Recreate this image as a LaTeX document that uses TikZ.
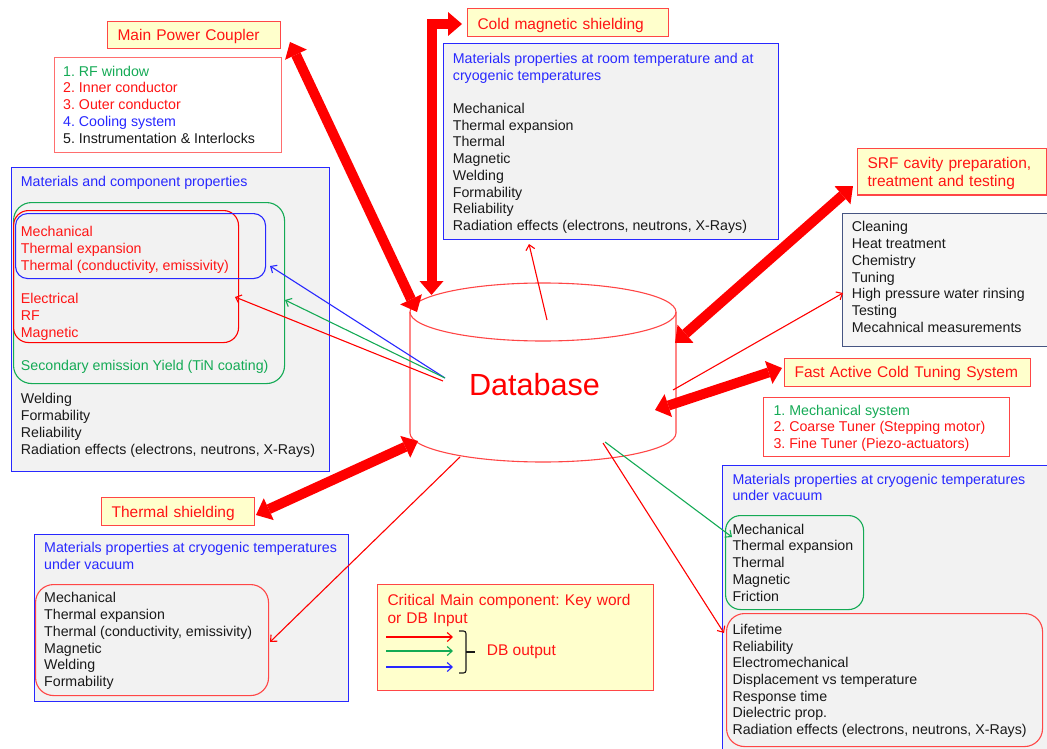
\documentclass[tikz,border=0pt]{standalone}
\usepackage{fontspec}
\setmainfont{Liberation Sans}
\usetikzlibrary{arrows.meta}

\definecolor{tred}{RGB}{255,20,20}
\definecolor{edgered}{RGB}{255,70,70}
\definecolor{softred}{RGB}{255,110,110}
\definecolor{paleyellow}{RGB}{255,255,204}
\definecolor{panelgray}{RGB}{242,242,242}
\definecolor{listgray}{RGB}{246,246,246}
\definecolor{ublue}{RGB}{40,40,255}
\definecolor{ugreen}{RGB}{20,170,85}
\definecolor{ink}{RGB}{25,25,25}
\definecolor{slate}{RGB}{70,85,130}

\newcommand{\fbody}{\fontsize{14.2}{16.7}\selectfont}
\newcommand{\fhead}{\fontsize{15.5}{18.4}\selectfont}
\newcommand{\fdb}{\fontsize{30.6}{36}\selectfont}
\newcommand{\lineup}[1]{\rule{0pt}{#1pt}}
\newcommand{\linedown}[1]{\rule[-#1pt]{0pt}{#1pt}}

\begin{document}
\frenchspacing
\begin{tikzpicture}[x=1pt, y=-1pt,
  panel/.style={draw=ublue, fill=panelgray, line width=1.1pt, anchor=north west, inner sep=0pt},
  listbox/.style={draw=softred, fill=white, line width=1.1pt, anchor=north west, inner sep=0pt},
  keybox/.style={draw=edgered, fill=paleyellow, line width=1.1pt, anchor=north west,
    inner xsep=10pt, inner ysep=0pt, align=left, font=\fhead, text=tred},
  ring/.style={rounded corners=#1, line width=1.1pt, anchor=north west, inner sep=0pt},
  txt/.style={anchor=north west, inner sep=0pt, align=left, font=\fbody, text=ink},
  bigarrow/.style={draw=red, line width=10pt,
    {Triangle[length=14pt,width=24pt,line width=0pt]}-{Triangle[length=14pt,width=24pt,line width=0pt]}},
  link/.style={line width=1.1pt, -{Straight Barb[length=5pt,width=9pt]}},
  dbline/.style={draw=edgered, line width=1.1pt},
]
\useasboundingbox (0,0) rectangle (1047,749);

% ---------- panels ----------
\node[panel, minimum width=318pt, minimum height=304pt] (compPanel) at (11,167) {};
\node[panel, minimum width=335pt, minimum height=196pt] (shieldPanel) at (443,43) {};
\node[panel, minimum width=330pt, minimum height=290pt] (tunerPanel) at (722,465) {};
\node[panel, minimum width=314pt, minimum height=167pt] (thermPanel) at (34,534) {};
\node[listbox, draw=slate, fill=listgray, minimum width=205pt, minimum height=133pt] (srfList) at (842,213) {};
\node[listbox, minimum width=227pt, minimum height=95pt] (mpcList) at (54,57) {};
\node[listbox, draw=edgered, minimum width=246pt, minimum height=59pt] (tunerList) at (763,397) {};

% ---------- grouping rings ----------
\node[ring=18pt, draw=ugreen, minimum width=271pt, minimum height=181pt] (ringSey) at (13,202) {};
\node[ring=15pt, draw=red, minimum width=225pt, minimum height=132pt] (ringRf) at (13,210) {};
\node[ring=12pt, draw=ublue, minimum width=250pt, minimum height=65pt] (ringTherm) at (15,213) {};
\node[ring=15pt, draw=ugreen, minimum width=138pt, minimum height=94pt] (ringMech) at (725,515) {};
\node[ring=18pt, draw=edgered, minimum width=316pt, minimum height=133pt] (ringLife) at (726,613) {};
\node[ring=18pt, draw=edgered, minimum width=233pt, minimum height=111pt] (ringCryo) at (35,584) {};

% ---------- key components ----------
\node[keybox, text width=153pt] (mpc) at (107,21) {\lineup{19}Main Power Coupler\linedown{8}};
\node[keybox, text width=181pt] (cms) at (467,8) {\lineup{20.5}Cold magnetic shielding\linedown{7.5}};
\node[keybox, text width=169pt] (srf) at (857,148) {\lineup{20}SRF cavity preparation,\\treatment and testing\linedown{8}};
\node[keybox, text width=226pt] (facts) at (784,358) {\lineup{19}Fast Active Cold Tuning System\linedown{9}};
\node[keybox, text width=133pt] (thermal) at (101,497) {\lineup{20}Thermal shielding\linedown{8}};
\node[keybox, text width=256pt] (legend) at (377,584) {\lineup{21}Critical Main component: Key word\\or DB Input\linedown{66.6}};

% ---------- texts ----------
\node[txt] (mpcItems) at (63,64) {\lineup{12}\textcolor{ugreen}{1. RF window}\\\textcolor{tred}{2. Inner conductor}\\\textcolor{tred}{3. Outer conductor}\\\textcolor{ublue}{4. Cooling system}\\5. Instrumentation \& Interlocks};

\node[txt, text=ublue] (compTitle) at (20.7,174.7) {\lineup{12}Materials and component properties};
\node[txt, text=tred] (compThermal) at (20.7,224.7) {\lineup{12}Mechanical\\Thermal expansion\\Thermal (conductivity, emissivity)};
\node[txt, text=tred] (compRf) at (20.7,291.5) {\lineup{12}Electrical\\RF\\Magnetic};
\node[txt, text=ugreen] (compSey) at (20.7,358.3) {\lineup{12}Secondary emission Yield (TiN coating)};
\node[txt] (compOther) at (20.7,391.7) {\lineup{12}Welding\\Formability\\Reliability\\Radiation effects (electrons, neutrons, X-Rays)};

\node[txt, text=ublue] (shieldTitle) at (452.7,51.3) {\lineup{12}Materials properties at room temperature and at\\cryogenic temperatures};
\node[txt] (shieldItems) at (452.7,101.3) {\lineup{12}Mechanical\\Thermal expansion\\Thermal\\Magnetic\\Welding\\Formability\\Reliability\\Radiation effects (electrons, neutrons, X-Rays)};

\node[txt] (srfItems) at (851.7,219.7) {\lineup{12}Cleaning\\Heat treatment\\Chemistry\\Tuning\\High pressure water rinsing\\Testing\\Mecahnical measurements};

\node[txt] (tunerItems) at (773.3,403) {\lineup{12}\textcolor{ugreen}{1. Mechanical system}\\\textcolor{tred}{2. Coarse Tuner (Stepping motor)}\\\textcolor{tred}{3. Fine Tuner (Piezo-actuators)}};

\node[txt, text=ublue] (tunerTitle) at (732.3,472) {\lineup{12}Materials properties at cryogenic temperatures\\under vacuum};
\node[txt] (tunerMech) at (732.3,522) {\lineup{12}Mechanical\\Thermal expansion\\Thermal\\Magnetic\\Friction};
\node[txt] (tunerLife) at (732.3,622.2) {\lineup{12}Lifetime\\Reliability\\Electromechanical\\Displacement vs temperature\\Response time\\Dielectric prop.\\Radiation effects (electrons, neutrons, X-Rays)};

\node[txt, text=ublue] (thermTitle) at (44,540.7) {\lineup{12}Materials properties at cryogenic temperatures\\under vacuum};
\node[txt] (thermItems) at (44,590.7) {\lineup{12}Mechanical\\Thermal expansion\\Thermal (conductivity, emissivity)\\Magnetic\\Welding\\Formability};

% ---------- database cylinder ----------
\path[fill=white] (410,312) -- (410,433) arc[start angle=180, end angle=360, x radius=133pt, y radius=29pt]
  -- (676,312) arc[start angle=0, end angle=180, x radius=133pt, y radius=29pt] -- cycle;
\draw[dbline] (410,312) -- (410,433) arc[start angle=180, end angle=360, x radius=133pt, y radius=29pt] -- (676,312);
\draw[dbline] (543,312) ellipse[x radius=133pt, y radius=29pt];

% ---------- connector ends ----------
\coordinate (mpcEnd) at (290,42);     \coordinate (dbNW) at (417,312);
\coordinate (dbTop) at (431.5,295);   \coordinate (cmsEnd) at (462,24);
\coordinate (srfEnd) at (853,186);    \coordinate (dbNE) at (675,343);
\coordinate (factsEnd) at (782,368);  \coordinate (dbE) at (655,410);
\coordinate (thermalEnd) at (256,515);\coordinate (dbSW) at (418,441);

\coordinate (dbUp) at (547,320);      \coordinate (shieldIn) at (529,244);
\coordinate (dbLeft) at (445,378);    \coordinate (dbLeftLow) at (443,381);
\coordinate (thermIn) at (270,266);   \coordinate (seyIn) at (285,300);
\coordinate (rfIn) at (235,297);
\coordinate (dbRight) at (673,390);   \coordinate (srfIn) at (843,293);
\coordinate (dbLowA) at (605,442);    \coordinate (mechIn) at (732,537);
\coordinate (dbLowB) at (603,443);    \coordinate (lifeIn) at (724,633);
\coordinate (dbLowC) at (460,457);    \coordinate (cryoIn) at (270,642);

% ---------- thick two-way links ----------
\draw[bigarrow] (mpcEnd) -- (dbNW);
\draw[bigarrow] (dbTop) |- (cmsEnd);
\draw[bigarrow] (srfEnd) -- (dbNE);
\draw[bigarrow] (factsEnd) -- (dbE);
\draw[bigarrow] (thermalEnd) -- (dbSW);

% ---------- database outputs ----------
\draw[link, red] (dbUp) -- (shieldIn);
\draw[link, ublue] (dbLeft) -- (thermIn);
\draw[link, ugreen] (dbLeft) -- (seyIn);
\draw[link, red] (dbLeftLow) -- (rfIn);
\draw[link, red] (dbRight) -- (srfIn);
\draw[link, ugreen] (dbLowA) -- (mechIn);
\draw[link, red] (dbLowB) -- (lifeIn);
\draw[link, red] (dbLowC) -- (cryoIn);

\node[anchor=base, inner sep=0pt, font=\fdb, text=red] (db) at (534.5,395) {Database};

% ---------- legend samples ----------
\coordinate (keyRa) at (386,637); \coordinate (keyRb) at (453,637);
\coordinate (keyGa) at (386,651); \coordinate (keyGb) at (453,651);
\coordinate (keyBa) at (386,667); \coordinate (keyBb) at (453,667);
\draw[link, red] (keyRa) -- (keyRb);
\draw[link, ugreen] (keyGa) -- (keyGb);
\draw[link, ublue] (keyBa) -- (keyBb);
\draw[ink, line width=1.1pt, rounded corners=2.5pt] (459,631) -- (466,631) -- (466,673) -- (459,673);
\draw[ink, line width=1.1pt] (466,652) -- (475,652);
\node[anchor=base west, inner sep=0pt, font=\fhead, text=tred] (dbout) at (486.7,655) {DB output};
\end{tikzpicture}
\end{document}
